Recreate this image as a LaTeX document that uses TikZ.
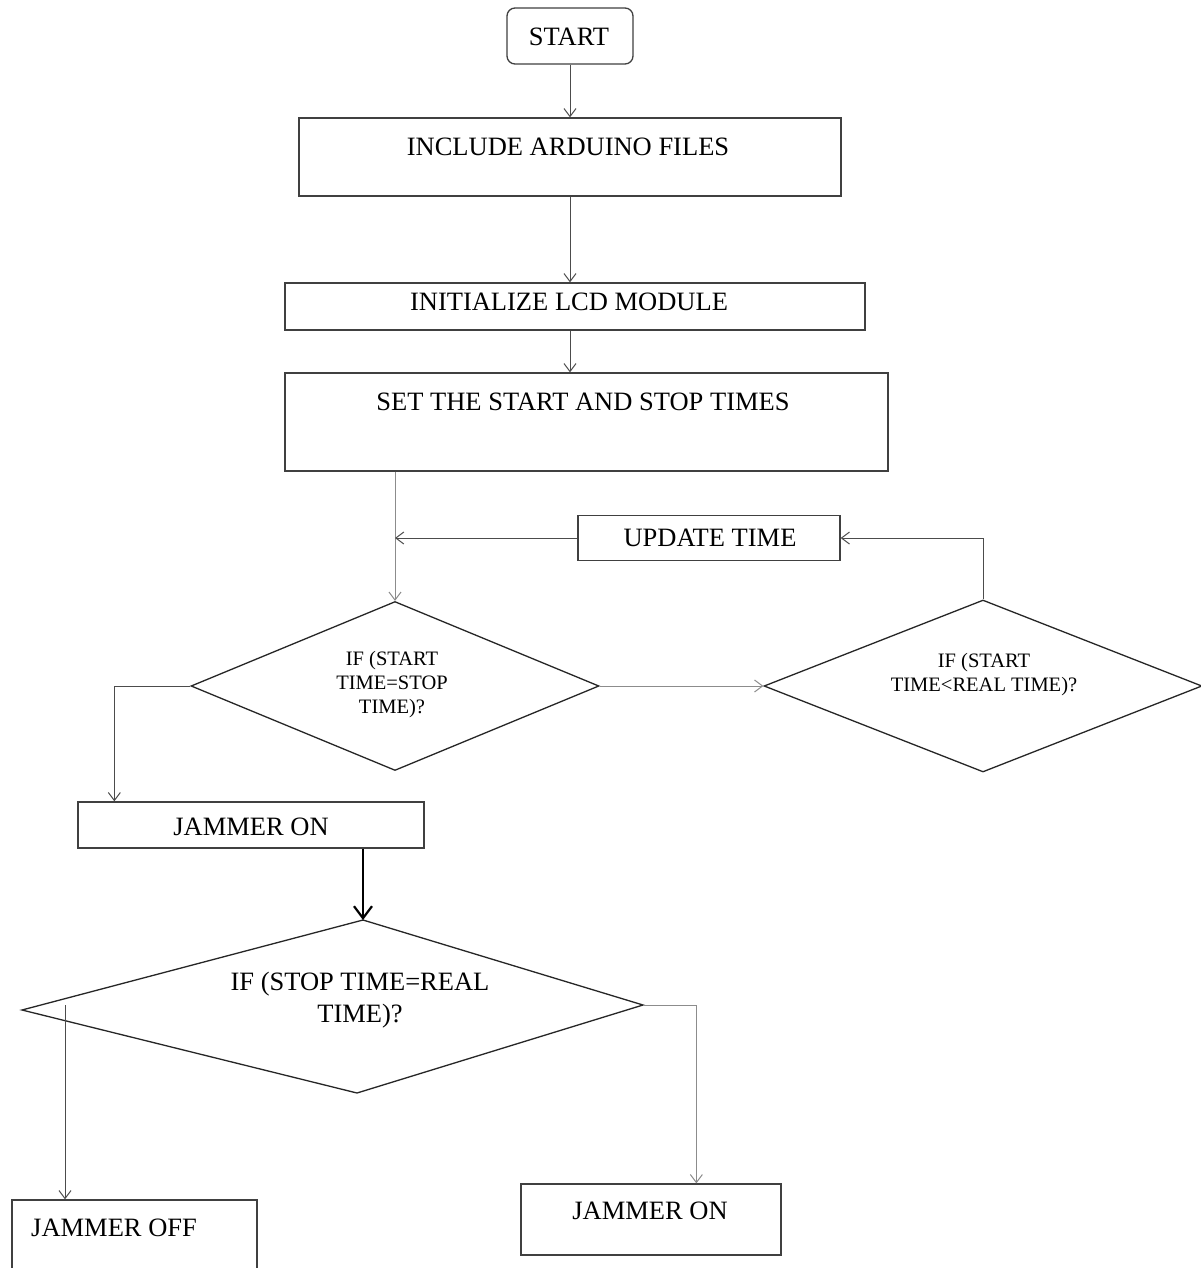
\documentclass[tikz,border=0pt]{standalone}
\usepackage{fontspec}
\setmainfont{Liberation Serif}
\usetikzlibrary{arrows.meta,shapes.geometric,calc}
\begin{document}
\begin{tikzpicture}[x=1pt,y=-1pt,
  box/.style={draw=black!75,line width=1.3pt,rectangle,inner sep=0pt},
  lbl/.style={font=\fontsize{26.5}{32}\selectfont,inner sep=0pt},
  dlbl/.style={font=\fontsize{20.5}{24}\selectfont,inner sep=0pt,align=center},
  dia/.style={draw=black!85,line width=1.3pt,diamond,inner sep=0pt},
  conn/.style={draw=black!70,line width=1pt,-{Straight Barb[length=8pt,width=12pt]}},
  gconn/.style={conn,draw=black!45},
  bconn/.style={draw=black,line width=2.2pt,-{Straight Barb[length=12pt,width=18pt]}}
]
\clip (0,0) rectangle (1201,1268);
\fill[white] (0,0) rectangle (1201,1268);

% boxes
\node[box,rounded corners=8pt,minimum width=126pt,minimum height=56pt] (start) at (570,36) {};
\node[lbl] (startT) at (569,37) {START};

\node[box,minimum width=542pt,minimum height=78pt] (inc) at (570,157) {};
\node[lbl] (incT) at (568,147) {INCLUDE ARDUINO FILES};

\node[box,minimum width=580pt,minimum height=47pt] (init) at (575,306.5) {};
\node[lbl] (initT) at (569,302) {INITIALIZE LCD MODULE};

\node[box,minimum width=603pt,minimum height=98pt] (set) at (586.5,422) {};
\node[lbl] (setT) at (583,402) {SET THE START AND STOP TIMES};

\node[box,minimum width=262pt,minimum height=45pt] (upd) at (709,538) {};
\node[lbl] (updT) at (710,538) {UPDATE TIME};

% decisions
\node[dia,minimum width=408pt,minimum height=169pt] (d1) at (395,686) {};
\node[dlbl] (d1T) at (392,685) {IF (START\\TIME=STOP\\TIME)?};

\node[dia,minimum width=438pt,minimum height=172pt] (d2) at (983,686) {};
\node[dlbl] (d2T) at (984,675) {IF (START\\TIME<REAL TIME)?};

\node[box,minimum width=346pt,minimum height=46pt] (jon1) at (251,825) {};
\node[lbl] (jon1T) at (251,827) {JAMMER ON};

\coordinate (d3t) at (363,920);
\coordinate (d3l) at (22,1010);
\coordinate (d3b) at (357,1093);
\coordinate (d3r) at (643,1005);
\draw[draw=black!85,line width=1.3pt] (d3t) -- (d3l) -- (d3b) -- (d3r) -- cycle;
\node[lbl,align=center] (d3T) at (360,1000) {IF (STOP TIME=REAL\\TIME)?};

\node[box,minimum width=245pt,minimum height=80pt] (joff) at (134.5,1240) {};
\node[lbl,anchor=west] (joffT) at (31,1228) {JAMMER OFF};

\node[box,minimum width=260pt,minimum height=71pt] (jon2) at (651,1219.5) {};
\node[lbl] (jon2T) at (650,1211) {JAMMER ON};

% connectors
\draw[conn] (start.south) -- (inc.north);
\draw[conn] (inc.south) -- (inc.south |- init.north);
\draw[conn] (inc.south |- init.south) -- (inc.south |- set.north);
\draw[gconn] (set.south -| d1.north) -- (d1.north);
\draw[conn] (upd.west) -- (upd.west -| d1.north);
\draw[conn] (d2.north) |- (upd.east);
\draw[gconn] (d1.east) -- (d1.east -| d2.west);
\draw[conn] (d1.west) -| ($(jon1.north west)+(37,0)$);
\draw[bconn] (jon1.south -| d3t) -- (d3t);
\coordinate (d3lx) at (65,1005);
\draw[conn] (d3lx) -- (d3lx |- joff.north);
\draw[gconn] (d3r) -| ($(jon2.north west)+(176,0)$);
\end{tikzpicture}
\end{document}
